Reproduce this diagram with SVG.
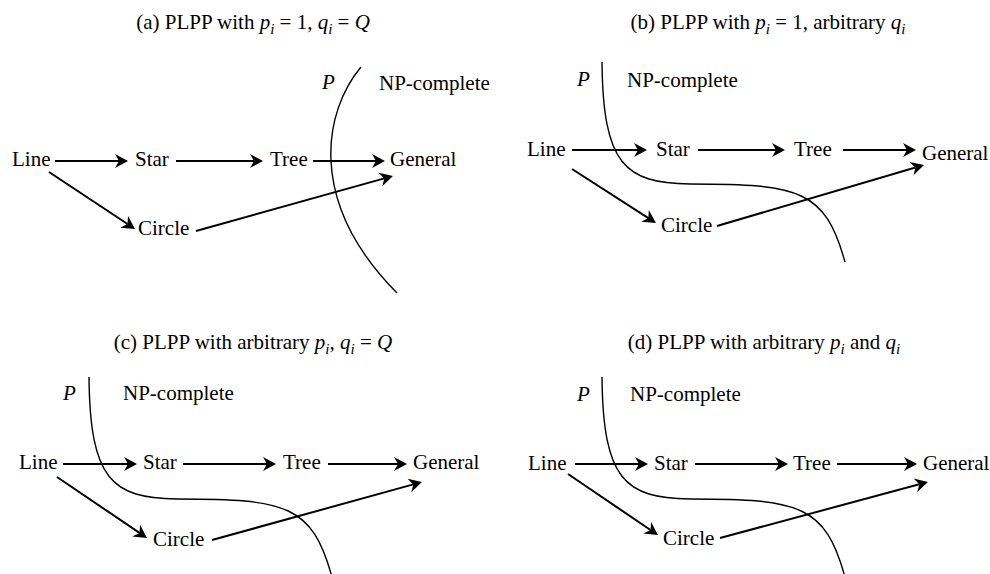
<svg xmlns="http://www.w3.org/2000/svg" width="990" height="574" viewBox="0 0 990 574">
<style>
text{font-family:"Liberation Serif","Times New Roman",serif;font-size:21px;fill:#000}
.it{font-style:italic}
.sub{font-style:italic;font-size:15px}
.ttl{text-anchor:middle}
.edge{stroke:#000;stroke-width:2;fill:none;marker-end:url(#ah)}
.bound{stroke:#000;stroke-width:1.4;fill:none}
</style>
<defs>
<marker id="ah" viewBox="-5 -8 15 16" markerWidth="15" markerHeight="16" refX="0" refY="0" orient="auto" markerUnits="userSpaceOnUse">
<path d="M9,0 L-4,-7 L0,0 L-4,7 Z" fill="#000"/>
</marker>
</defs>
<rect width="990" height="574" fill="#fff"/>

<!-- Panel (a) -->
<g id="panel-a">
<text class="ttl" x="253" y="29">(a) PLPP with <tspan class="it">p</tspan><tspan class="sub" dy="5">i</tspan><tspan dy="-5"> = 1, </tspan><tspan class="it">q</tspan><tspan class="sub" dy="5">i</tspan><tspan dy="-5"> = </tspan><tspan class="it">Q</tspan></text>
<path class="bound" d="M361,67 C325,110 305,200 397,293"/>
<text class="it" x="322" y="89">P</text>
<text x="379" y="90">NP-complete</text>
<g id="a-line"><text x="12" y="166">Line</text></g>
<g id="a-star"><text x="135" y="166">Star</text></g>
<g id="a-tree"><text x="270" y="166">Tree</text></g>
<g id="a-general"><text x="390" y="166">General</text></g>
<g id="a-circle"><text x="138" y="235">Circle</text></g>
<g id="a-connectors">
<path class="edge" d="M55,161 H119"/>
<path class="edge" d="M176,161 H254"/>
<path class="edge" d="M313,161 H376"/>
<path class="edge" d="M49,172 L127.5,224"/>
<path class="edge" d="M196,231 L384.3,178.4"/>
</g>
</g>

<!-- Panel (b) -->
<g id="panel-b">
<text class="ttl" x="768" y="29">(b) PLPP with <tspan class="it">p</tspan><tspan class="sub" dy="5">i</tspan><tspan dy="-5"> = 1, arbitrary </tspan><tspan class="it">q</tspan><tspan class="sub" dy="5">i</tspan></text>
<path class="bound" d="M602,62 C603,165 625,183 690,184 C800,184 825,190 845,262"/>
<text class="it" x="577" y="86">P</text>
<text x="627" y="87">NP-complete</text>
<g id="b-line"><text x="527" y="156">Line</text></g>
<g id="b-star"><text x="656" y="156">Star</text></g>
<g id="b-tree"><text x="794" y="156">Tree</text></g>
<g id="b-general"><text x="922" y="160">General</text></g>
<g id="b-circle"><text x="661" y="232">Circle</text></g>
<g id="b-connectors">
<path class="edge" d="M572,150 H638"/>
<path class="edge" d="M698,150 H776"/>
<path class="edge" d="M843,150 H907"/>
<path class="edge" d="M572,169 L648.4,218.1"/>
<path class="edge" d="M717,226 L915.4,167.5"/>
</g>
</g>

<!-- Panel (c) -->
<g id="panel-c">
<text class="ttl" x="253" y="349">(c) PLPP with arbitrary <tspan class="it">p</tspan><tspan class="sub" dy="5">i</tspan><tspan dy="-5">, </tspan><tspan class="it">q</tspan><tspan class="sub" dy="5">i</tspan><tspan dy="-5"> = </tspan><tspan class="it">Q</tspan></text>
<path class="bound" d="M89,377 C90,480 112,498 177,499 C287,499 312,505 332,577"/>
<text class="it" x="63" y="400">P</text>
<text x="123" y="400">NP-complete</text>
<g id="c-line"><text x="19" y="469">Line</text></g>
<g id="c-star"><text x="143" y="469">Star</text></g>
<g id="c-tree"><text x="283" y="469">Tree</text></g>
<g id="c-general"><text x="413" y="469">General</text></g>
<g id="c-circle"><text x="153" y="546">Circle</text></g>
<g id="c-connectors">
<path class="edge" d="M63,464 H128"/>
<path class="edge" d="M183,464 H267"/>
<path class="edge" d="M328,464 H398"/>
<path class="edge" d="M57,477 L139.5,532.9"/>
<path class="edge" d="M212,540 L413.3,484.4"/>
</g>
</g>

<!-- Panel (d) -->
<g id="panel-d">
<text class="ttl" x="764" y="349">(d) PLPP with arbitrary <tspan class="it">p</tspan><tspan class="sub" dy="5">i</tspan><tspan dy="-5"> and </tspan><tspan class="it">q</tspan><tspan class="sub" dy="5">i</tspan></text>
<path class="bound" d="M602,377 C603,480 625,498 690,499 C800,499 825,505 845,577"/>
<text class="it" x="577" y="401">P</text>
<text x="630" y="401">NP-complete</text>
<g id="d-line"><text x="528" y="470">Line</text></g>
<g id="d-star"><text x="654" y="470">Star</text></g>
<g id="d-tree"><text x="793" y="470">Tree</text></g>
<g id="d-general"><text x="923" y="470">General</text></g>
<g id="d-circle"><text x="663" y="545">Circle</text></g>
<g id="d-connectors">
<path class="edge" d="M575,464 H639"/>
<path class="edge" d="M695,464 H779"/>
<path class="edge" d="M837,464 H908"/>
<path class="edge" d="M568,474 L650.5,530"/>
<path class="edge" d="M720,538 L919.3,484.3"/>
</g>
</g>
</svg>
